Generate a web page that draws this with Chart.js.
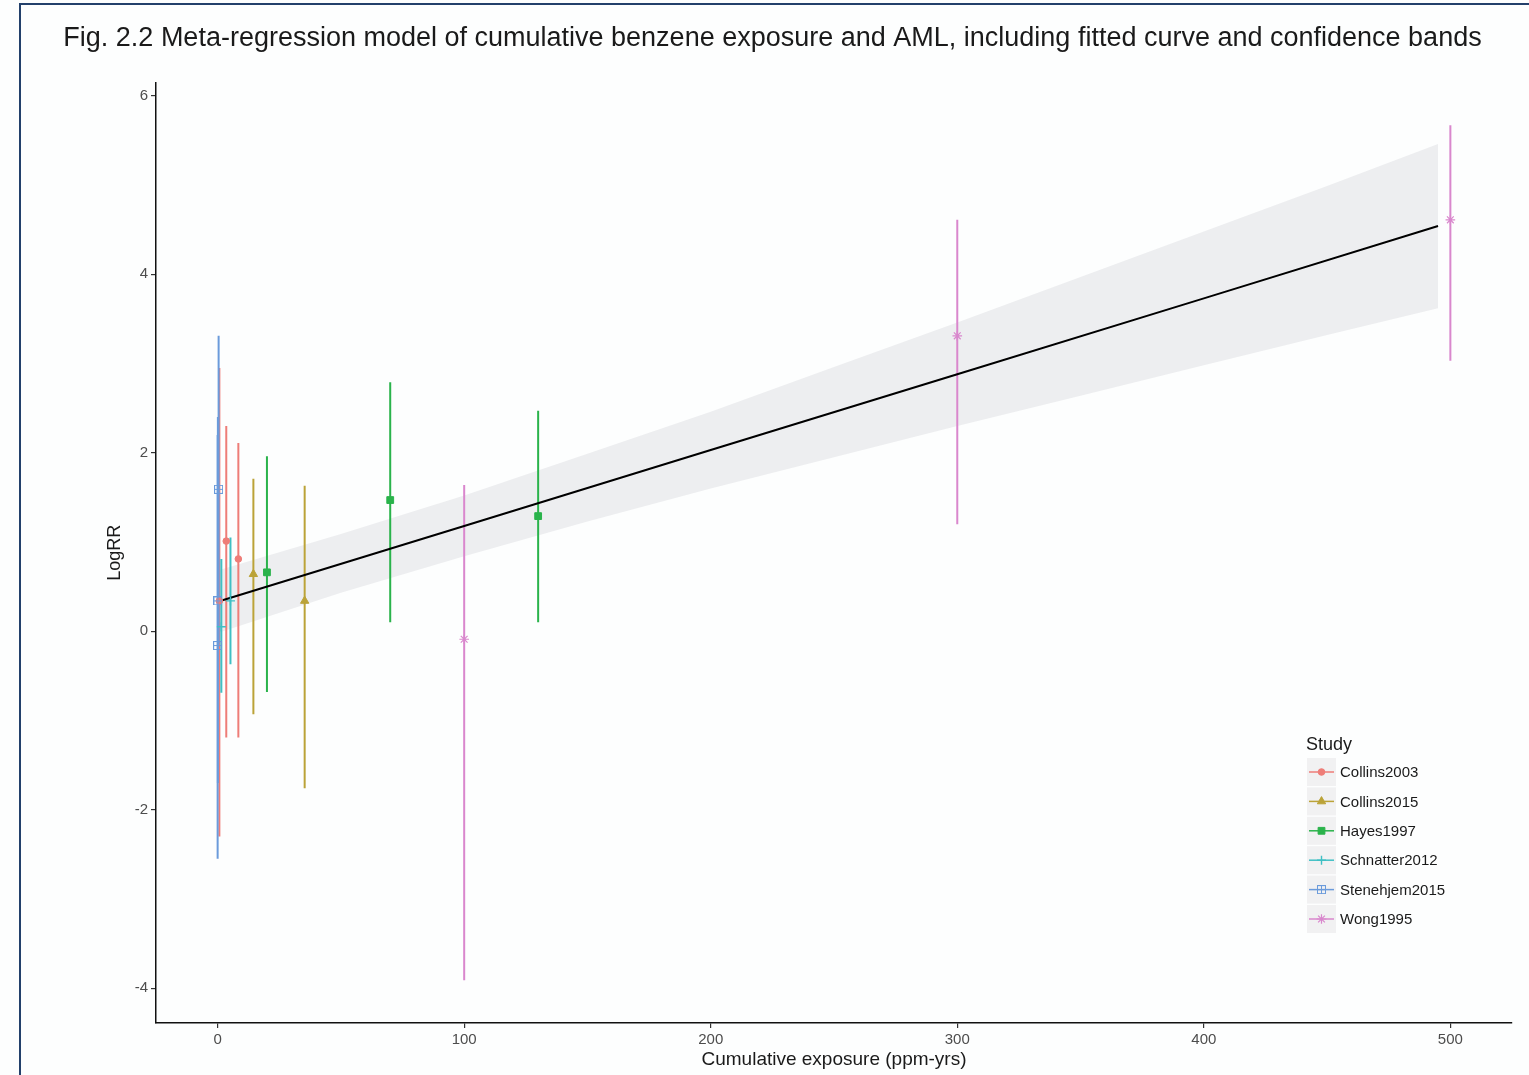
<!DOCTYPE html>
<html><head><meta charset="utf-8">
<script src="https://cdn.jsdelivr.net/npm/chart.js@4.4.1/dist/chart.umd.min.js"></script>
<style>
html,body{margin:0;padding:0;background:#fdfefe;}
#wrap{position:relative;width:1529px;height:1075px;overflow:hidden;}
#frame{position:absolute;left:19px;top:3px;width:1600px;height:1200px;border:2px solid #23406b;box-sizing:border-box;}
canvas{position:absolute;left:0;top:0;}
</style></head><body>
<div id="wrap"><div id="frame"></div><canvas id="c" width="1529" height="1075"></canvas></div>
<script>
// ---------- data ----------
const studies = ['Collins2003','Collins2015','Hayes1997','Schnatter2012','Stenehjem2015','Wong1995'];

const collins2003X  = [0.7, 3.5, 8.4];
const collins2003Y  = [0.34, 1.01, 0.81];
const collins2003Lo = [-2.30, -1.19, -1.19];
const collins2003Hi = [2.95, 2.30, 2.11];

const collins2015X  = [14.5, 35.3];
const collins2015Y  = [0.64, 0.34];
const collins2015Lo = [-0.93, -1.76];
const collins2015Hi = [1.71, 1.63];

const hayes1997X  = [20, 70, 130];
const hayes1997Y  = [0.66, 1.47, 1.29];
const hayes1997Lo = [-0.68, 0.10, 0.10];
const hayes1997Hi = [1.96, 2.79, 2.47];

const schnatter2012X  = [1.5, 5.2];
const schnatter2012Y  = [0.05, 0.34];
const schnatter2012Lo = [-0.69, -0.37];
const schnatter2012Hi = [0.81, 1.05];

const stenehjem2015X  = [0.4, 0.1, 0.0];
const stenehjem2015Y  = [1.59, 0.34, -0.16];
const stenehjem2015Lo = [-0.15, -1.70, -2.55];
const stenehjem2015Hi = [3.31, 2.40, 2.20];

const wong1995X  = [100, 300, 500];
const wong1995Y  = [-0.09, 3.31, 4.61];
const wong1995Lo = [-3.91, 1.20, 3.03];
const wong1995Hi = [1.64, 4.61, 5.67];

const fitX = [0, 100, 200, 300, 400, 495];
const fitY = [0.33, 1.18, 2.03, 2.88, 3.73, 4.54];

const bandX  = [0, 50, 100, 150, 200, 250, 300, 350, 400, 450, 495];
const bandLo = [-0.02, 0.43, 0.84, 1.23, 1.60, 1.95, 2.30, 2.64, 2.98, 3.32, 3.62];
const bandHi = [0.68, 1.09, 1.52, 1.99, 2.46, 2.96, 3.46, 3.97, 4.48, 4.99, 5.46];

const xTicks = [0, 100, 200, 300, 400, 500];
const yTicks = [-4, -2, 0, 2, 4, 6];

// ---------- styling ----------
const FONT = "'Liberation Sans', Arial, Helvetica, sans-serif";
const colors = ['#ee7d78', '#bba338', '#2ab34b', '#3fbfc4', '#6b9bdb', '#d987cd'];

function makeBoxPlus(color){
  const c = document.createElement('canvas'); c.width = 9; c.height = 9;
  const g = c.getContext('2d'); g.strokeStyle = color; g.lineWidth = 1;
  g.strokeRect(0.5, 0.5, 8, 8);
  g.beginPath(); g.moveTo(0.5, 4.5); g.lineTo(8.5, 4.5); g.moveTo(4.5, 0.5); g.lineTo(4.5, 8.5); g.stroke();
  return c;
}

const groups = [
  {x: collins2003X, y: collins2003Y, lo: collins2003Lo, hi: collins2003Hi, style: 'circle', r: 3.3, bw: 1, fill: true},
  {x: collins2015X, y: collins2015Y, lo: collins2015Lo, hi: collins2015Hi, style: 'triangle', r: 4.8, bw: 1, fill: true},
  {x: hayes1997X, y: hayes1997Y, lo: hayes1997Lo, hi: hayes1997Hi, style: 'rect', r: 4.8, bw: 1, fill: true},
  {x: schnatter2012X, y: schnatter2012Y, lo: schnatter2012Lo, hi: schnatter2012Hi, style: 'cross', r: 4.5, bw: 1.4, fill: false},
  {x: stenehjem2015X, y: stenehjem2015Y, lo: stenehjem2015Lo, hi: stenehjem2015Hi, style: 'boxplus', r: 4.5, bw: 1, fill: false},
  {x: wong1995X, y: wong1995Y, lo: wong1995Lo, hi: wong1995Hi, style: 'star', r: 4.8, bw: 1.2, fill: false}
];
groups.forEach((g, i) => {
  g.name = studies[i]; g.color = colors[i];
  g.ps = g.style === 'boxplus' ? makeBoxPlus(g.color) : g.style;
});

const datasets = [];
// confidence band
datasets.push({type: 'line', data: bandX.map((x, i) => ({x, y: bandHi[i]})), borderWidth: 0, pointRadius: 0,
  fill: '+1', backgroundColor: 'rgba(190,192,198,0.25)', order: 30});
datasets.push({type: 'line', data: bandX.map((x, i) => ({x, y: bandLo[i]})), borderWidth: 0, pointRadius: 0,
  fill: false, order: 30});
// error bars (later studies drawn on top)
groups.forEach((g, gi) => {
  g.x.forEach((x, i) => {
    datasets.push({type: 'line', data: [{x, y: g.lo[i]}, {x, y: g.hi[i]}], borderColor: g.color, borderWidth: 2,
      pointRadius: 0, fill: false, order: 20 - gi});
  });
});
// fitted line
datasets.push({type: 'line', data: fitX.map((x, i) => ({x, y: fitY[i]})), borderColor: '#000', borderWidth: 2,
  pointRadius: 0, fill: false, order: 5});
// points (later studies drawn on top)
groups.forEach((g, gi) => {
  datasets.push({type: 'scatter', label: g.name, data: g.x.map((x, i) => ({x, y: g.y[i]})),
    pointStyle: g.ps, pointRadius: g.r, borderWidth: g.bw, borderColor: g.color,
    backgroundColor: g.fill ? g.color : 'rgba(0,0,0,0)', order: 2 - gi * 0.1});
});

// custom legend
const legendPlugin = {
  id: 'ggLegend',
  afterDraw(chart) {
    const ctx = chart.ctx;
    ctx.save();
    ctx.fillStyle = '#1a1a1a';
    ctx.font = '18px ' + FONT;
    ctx.textAlign = 'left'; ctx.textBaseline = 'middle';
    ctx.fillText('Study', 1306, 745);
    groups.forEach((g, i) => {
      const top = 758 + i * 29.4;
      const cy = top + 14;
      ctx.fillStyle = '#f1f1f2';
      ctx.fillRect(1307, top, 29, 28);
      ctx.strokeStyle = g.color; ctx.lineWidth = 1.5;
      ctx.beginPath(); ctx.moveTo(1309, cy); ctx.lineTo(1334, cy); ctx.stroke();
      ctx.fillStyle = g.fill ? g.color : 'rgba(0,0,0,0)';
      ctx.strokeStyle = g.color; ctx.lineWidth = g.bw;
      Chart.helpers.drawPoint(ctx, {pointStyle: g.ps, radius: g.r, borderWidth: g.bw, rotation: 0}, 1321.5, cy);
      ctx.fillStyle = '#1a1a1a';
      ctx.font = '15px ' + FONT;
      ctx.fillText(g.name, 1340, cy + 1);
    });
    ctx.restore();
  }
};

new Chart(document.getElementById('c'), {
  type: 'scatter',
  data: {datasets},
  plugins: [legendPlugin],
  options: {
    responsive: false, animation: false, events: [],
    layout: {padding: {left: 33, right: 17, top: 0, bottom: 0}},
    elements: {line: {tension: 0}},
    plugins: {
      legend: {display: false}, tooltip: {enabled: false},
      title: {display: true, text: 'Fig. 2.2 Meta-regression model of cumulative benzene exposure and AML, including fitted curve and confidence bands',
        font: {family: FONT, size: 27, weight: 'normal'}, color: '#1a1a1a', padding: {top: 22, bottom: 28}}
    },
    scales: {
      x: {type: 'linear', min: -25, max: 525,
        afterBuildTicks: s => { s.ticks = xTicks.map(v => ({value: v})); },
        afterFit: s => { s.height = 52; },
        grid: {drawOnChartArea: false, drawTicks: true, tickLength: 5, color: '#333', lineWidth: 1.2},
        border: {display: true, color: '#111', width: 1.5},
        ticks: {color: '#4d4d4d', font: {family: FONT, size: 15}, padding: 3, autoSkip: false, maxRotation: 0},
        title: {display: true, text: 'Cumulative exposure (ppm-yrs)', font: {family: FONT, size: 19}, color: '#1a1a1a',
          padding: {top: 0, bottom: 3.6}}
      },
      y: {type: 'linear', min: -4.39, max: 6.15,
        afterBuildTicks: s => { s.ticks = yTicks.map(v => ({value: v})); },
        afterFit: s => { s.width = 123; },
        grid: {drawOnChartArea: false, drawTicks: true, tickLength: 5, color: '#333', lineWidth: 1.2},
        border: {display: true, color: '#111', width: 1.5},
        ticks: {color: '#4d4d4d', font: {family: FONT, size: 15}, padding: 3, autoSkip: false},
        title: {display: true, text: 'LogRR', font: {family: FONT, size: 18}, color: '#1a1a1a',
          padding: {top: 71, bottom: 0}}
      }
    }
  }
});
</script>
</body></html>
